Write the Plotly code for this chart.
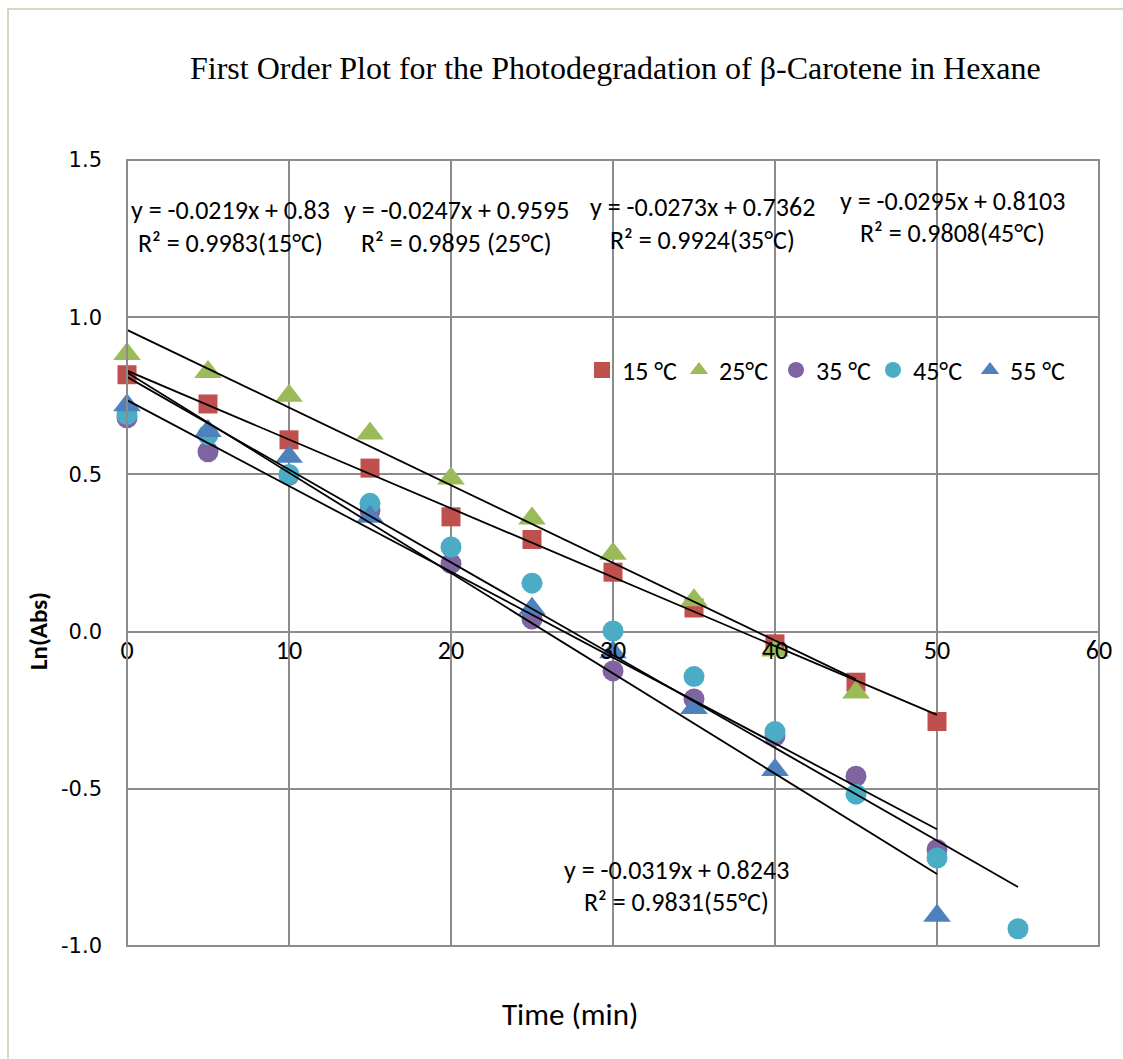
import plotly.graph_objects as go

# Time points (min) and ln(absorbance) readings for each temperature
time_15 = [0, 5, 10, 15, 20, 25, 30, 35, 40, 45, 50]
ln_abs_15 = [0.817, 0.724, 0.61, 0.52, 0.365, 0.293, 0.189, 0.075, -0.039, -0.161, -0.286]

time_25 = [0, 5, 10, 15, 20, 25, 30, 35, 40, 45]
ln_abs_25 = [0.883, 0.826, 0.75, 0.63, 0.487, 0.36, 0.248, 0.10, -0.06, -0.194]

time_35 = [0, 5, 10, 15, 20, 25, 30, 35, 40, 45, 50]
ln_abs_35 = [0.68, 0.572, 0.497, 0.385, 0.216, 0.04, -0.125, -0.214, -0.332, -0.46, -0.693]

time_45 = [0, 5, 10, 15, 20, 25, 30, 35, 40, 45, 50, 55]
ln_abs_45 = [0.69, 0.626, 0.50, 0.408, 0.269, 0.154, 0.002, -0.143, -0.318, -0.517, -0.72, -0.945]

time_55 = [0, 5, 10, 15, 25, 30, 35, 40, 50]
ln_abs_55 = [0.72, 0.638, 0.556, 0.365, 0.073, -0.066, -0.243, -0.44, -0.904]

# Linear fits (slope, intercept, R², fitted time range)
fit_slopes = [-0.0219, -0.0247, -0.0273, -0.0295, -0.0319]
fit_intercepts = [0.83, 0.9595, 0.7362, 0.8103, 0.8243]
fit_r2 = ["0.9983", "0.9895", "0.9924", "0.9808", "0.9831"]
fit_ranges = [(0, 50), (0, 45), (0, 50), (0, 55), (0, 50)]

series_names = ["15 °C", "25°C", "35 °C", "45°C", "55 °C"]
series_times = [time_15, time_25, time_35, time_45, time_55]
series_values = [ln_abs_15, ln_abs_25, ln_abs_35, ln_abs_45, ln_abs_55]

x_ticks = [0, 10, 20, 30, 40, 50, 60]
y_ticks = [-1.0, -0.5, 0.0, 0.5, 1.0, 1.5]

colors = ["#C0504D", "#9BBB59", "#8064A2", "#4BACC6", "#4F81BD"]
symbols = ["square", "triangle-up", "circle", "circle", "triangle-up"]
sizes = [19, 24, 21, 21, 24]

SANS = "Carlito, Lato, sans-serif"
GRID = "#8C8C8C"

W, H = 1123, 1059
ML, MR, MT, MB = 127, 24, 160, 113
PW, PH = W - ML - MR, H - MT - MB


def px(xp, yp):
    """Convert page pixel coordinates to paper coordinates."""
    return (xp - ML) / PW, (H - MB - yp) / PH


fig = go.Figure()

for name, t, v, c, s, sz in zip(series_names, series_times, series_values, colors, symbols, sizes):
    fig.add_trace(go.Scatter(
        x=t, y=v, mode="markers", name=name,
        marker=dict(symbol=s, color=c, size=sz, line=dict(width=0)),
        cliponaxis=False,
    ))

for m, b, (x0, x1) in zip(fit_slopes, fit_intercepts, fit_ranges):
    fig.add_trace(go.Scatter(
        x=[x0, x1], y=[m * x0 + b, m * x1 + b], mode="lines",
        line=dict(color="black", width=1.8), showlegend=False, hoverinfo="skip",
    ))

# Equation labels: (line1 center, line2 center) in page pixels
label_pos = [((230, 210), (230, 243)),
             ((456, 210), (456, 243)),
             ((702, 207), (702, 240)),
             ((952, 201), (952, 233)),
             ((676, 870), (676, 902))]
temps = ["15°C", "25°C", "35°C", "45°C", "55°C"]
annotations = []
for m, b, r2, tp, (p1, p2) in zip(fit_slopes, fit_intercepts, fit_r2, temps, label_pos):
    sep = " " if tp == "25°C" else ""
    for text, (xp, yp) in ((f"y = {m:.4f}x + {b:g}", p1), (f"R² = {r2}{sep}({tp})", p2)):
        ax, ay = px(xp, yp)
        annotations.append(dict(x=ax, y=ay, xref="paper", yref="paper", text=text,
                                showarrow=False, xanchor="center", yanchor="middle",
                                font=dict(family=SANS, size=26, color="black")))

tx, ty = px(615, 68)
annotations.append(dict(x=tx, y=ty, xref="paper", yref="paper",
                        text="First Order Plot for the Photodegradation of β-Carotene in Hexane",
                        showarrow=False, xanchor="center", yanchor="middle",
                        font=dict(family="Liberation Serif, Times New Roman, serif", size=32, color="black")))
tx, ty = px(570, 1014)
annotations.append(dict(x=tx, y=ty, xref="paper", yref="paper", text="Time (min)",
                        showarrow=False, xanchor="center", yanchor="middle",
                        font=dict(family=SANS, size=31, color="black")))
tx, ty = px(38, 631)
annotations.append(dict(x=tx, y=ty, xref="paper", yref="paper", text="<b>Ln(Abs)</b>",
                        showarrow=False, xanchor="center", yanchor="middle", textangle=-90,
                        font=dict(family=SANS, size=25, color="black")))

# Chart frame and plot-area border
bx0, by0 = px(8, 9)
bx1, by1 = px(1130, 1070)
shapes = [
    dict(type="rect", xref="paper", yref="paper", x0=bx0, y0=by1, x1=bx1, y1=by0,
         line=dict(color="#DAD6C6", width=2), layer="below"),
    dict(type="rect", xref="paper", yref="paper", x0=0, y0=0, x1=1, y1=1,
         line=dict(color=GRID, width=2), layer="above"),
]

y_lo, y_hi = -1.0, 1.5
fig.update_layout(
    width=W, height=H,
    margin=dict(l=ML, r=MR, t=MT, b=MB, pad=0),
    paper_bgcolor="white", plot_bgcolor="white",
    showlegend=True,
    legend=dict(orientation="h", x=px(582, 0)[0], y=px(0, 370)[1], xanchor="left", yanchor="middle",
                font=dict(family=SANS, size=26, color="black"), bgcolor="rgba(0,0,0,0)",
                itemsizing="trace", traceorder="normal", itemwidth=30,
                entrywidth=52, entrywidthmode="pixels"),
    xaxis=dict(range=[0, 60], tickvals=x_ticks, ticktext=[str(v) for v in x_ticks],
               showgrid=True, gridcolor=GRID, gridwidth=2, zeroline=False, showline=False,
               ticks="", anchor="free", position=(0 - y_lo) / (y_hi - y_lo),
               tickfont=dict(family=SANS, size=26, color="black")),
    yaxis=dict(range=[y_lo, y_hi], tickvals=y_ticks, ticktext=[f"{v:.1f}" for v in y_ticks],
               showgrid=True, gridcolor=GRID, gridwidth=2, zeroline=False, showline=False,
               ticks="", ticklabelstandoff=24,
               tickfont=dict(family="DejaVu Sans, Verdana, sans-serif", size=21, color="black")),
    annotations=annotations,
    shapes=shapes,
)

fig.write_html("out.html")
